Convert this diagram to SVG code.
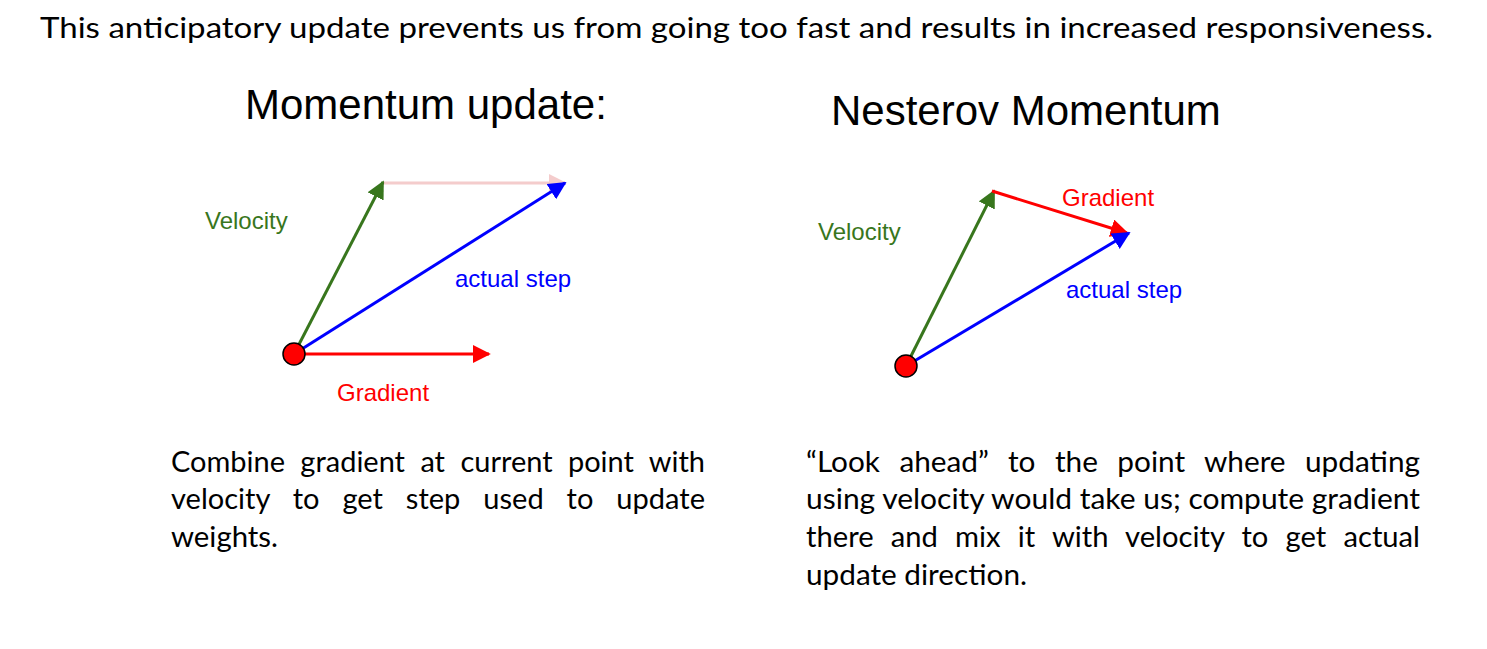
<svg xmlns="http://www.w3.org/2000/svg" width="1487" height="649" viewBox="0 0 1487 649">
<style>
.body{font-family:Lato,"Liberation Sans",sans-serif;font-size:29px;fill:#000}
.title{font-family:"Liberation Sans",Arial,sans-serif;font-size:42px;fill:#000}
.lbl{font-family:"Liberation Sans",Arial,sans-serif;font-size:24px}
.v{stroke-width:3;fill:none}
</style>
<defs>
<marker id="ag" viewBox="0 0 10 10" refX="9" refY="5" markerWidth="6" markerHeight="6" orient="auto" markerUnits="strokeWidth"><path d="M0,0 L10,5 L0,10 z" fill="#38761d"/></marker>
<marker id="ab" viewBox="0 0 10 10" refX="9" refY="5" markerWidth="6" markerHeight="6" orient="auto" markerUnits="strokeWidth"><path d="M0,0 L10,5 L0,10 z" fill="#0000ff"/></marker>
<marker id="ar" viewBox="0 0 10 10" refX="9" refY="5" markerWidth="6" markerHeight="6" orient="auto" markerUnits="strokeWidth"><path d="M0,0 L10,5 L0,10 z" fill="#ff0000"/></marker>
<marker id="ap" viewBox="0 0 10 10" refX="9" refY="5" markerWidth="6" markerHeight="6" orient="auto" markerUnits="strokeWidth"><path d="M0,0 L10,5 L0,10 z" fill="#f4cccc"/></marker>
</defs>
<text class="body" x="40" y="38" textLength="1393" lengthAdjust="spacingAndGlyphs">This anticipatory update prevents us from going too fast and results in increased responsiveness.</text>
<text class="title" x="245" y="119">Momentum update:</text>
<text class="title" x="831" y="125">Nesterov Momentum</text>
<g id="connectors">
<line class="v" x1="383" y1="183" x2="565" y2="183" stroke="#f4cccc" marker-end="url(#ap)"/>
<line class="v" x1="294" y1="354" x2="383" y2="182" stroke="#38761d" marker-end="url(#ag)"/>
<line class="v" x1="294" y1="354" x2="565" y2="183" stroke="#0000ff" marker-end="url(#ab)"/>
<line class="v" x1="294" y1="354" x2="489" y2="354" stroke="#ff0000" marker-end="url(#ar)"/>
<line class="v" x1="906" y1="366" x2="994" y2="191" stroke="#38761d" marker-end="url(#ag)"/>
<line class="v" x1="992" y1="191" x2="1127" y2="233" stroke="#ff0000" marker-end="url(#ar)"/>
<line class="v" x1="906" y1="366" x2="1129" y2="233" stroke="#0000ff" marker-end="url(#ab)"/>
</g>
<g id="point-left"><circle cx="294" cy="354" r="11" fill="#ff0000" stroke="#000" stroke-width="1.5"/></g>
<g id="point-right"><circle cx="906" cy="366" r="11" fill="#ff0000" stroke="#000" stroke-width="1.5"/></g>
<g id="labels-left">
<text class="lbl" x="205" y="229" fill="#38761d">Velocity</text>
<text class="lbl" x="455" y="287" fill="#0000ff">actual step</text>
<text class="lbl" x="337" y="401" fill="#ff0000">Gradient</text>
</g>
<g id="labels-right">
<text class="lbl" x="818" y="240" fill="#38761d">Velocity</text>
<text class="lbl" x="1062" y="206" fill="#ff0000">Gradient</text>
<text class="lbl" x="1066" y="298" fill="#0000ff">actual step</text>
</g>
<g id="text-left">
<text class="body" x="171" y="472" word-spacing="8" textLength="534" lengthAdjust="spacingAndGlyphs">Combine gradient at current point with</text>
<text class="body" x="171" y="509" word-spacing="15.5" textLength="534" lengthAdjust="spacingAndGlyphs">velocity to get step used to update</text>
<text class="body" x="171" y="547" textLength="107" lengthAdjust="spacingAndGlyphs">weights.</text>
</g>
<g id="text-right">
<text class="body" x="806" y="472" word-spacing="11.5" textLength="614" lengthAdjust="spacingAndGlyphs">“Look ahead” to the point where updating</text>
<text class="body" x="806" y="509" textLength="614" lengthAdjust="spacingAndGlyphs">using velocity would take us; compute gradient</text>
<text class="body" x="806" y="547" word-spacing="9.7" textLength="614" lengthAdjust="spacingAndGlyphs">there and mix it with velocity to get actual</text>
<text class="body" x="806" y="585" textLength="221" lengthAdjust="spacingAndGlyphs">update direction.</text>
</g>
</svg>
